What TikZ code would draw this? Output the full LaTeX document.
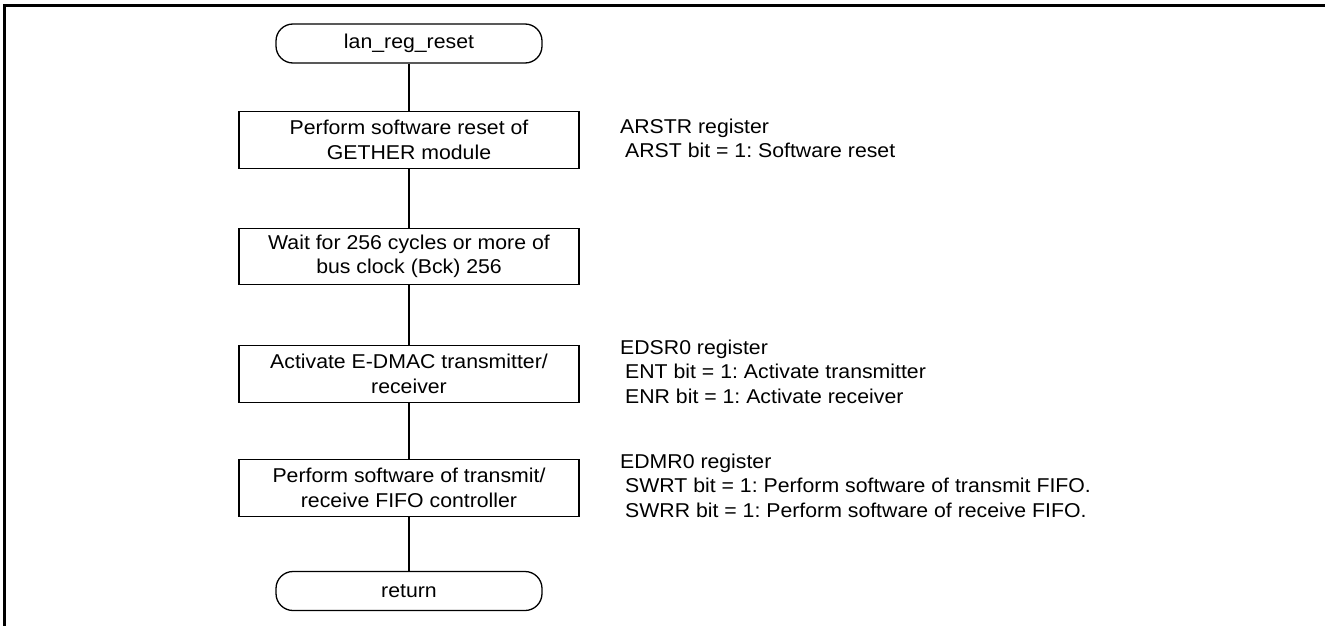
\documentclass[tikz,border=0pt]{standalone}
\usepackage{fontspec}
\setmainfont{Liberation Sans}[FakeStretch=1.063]
\frenchspacing
\begin{document}
\begin{tikzpicture}[x=1pt,y=-1pt,
  every node/.style={font=\fontsize{20}{24.5}\selectfont, inner sep=0pt},
  stepbox/.style={draw, line width=1.3pt, minimum width=340pt, minimum height=56.5pt, align=center},
  term/.style={draw, line width=1.3pt, rounded corners=17pt, minimum width=266pt, minimum height=39pt},
  link/.style={line width=1.3pt},
  frame/.style={line width=2.2pt},
  note/.style={anchor=base west}]
\useasboundingbox (0,0) rectangle (1325,626);
\coordinate (fb) at (4.5,626);
\coordinate (fc) at (4.5,5.5);
\coordinate (fr) at (1325,5.5);
\draw[frame] (fb) -- (fc) -- (fr);

\node[term] (start) at (409,43.5) {lan\_reg\_reset};
\node[stepbox] (b1) at (409,140) {Perform software reset of\\GETHER module};
\node[stepbox] (b2) at (409,256.5) {Wait for 256 cycles or more of\\bus clock (Bck) 256};
\node[stepbox] (b3) at (409,374) {Activate E-DMAC transmitter/\\receiver};
\node[stepbox] (b4) at (409,488) {Perform software of transmit/\\receive FIFO controller};
\node[term] (ret) at (409,591) {return};

\draw[link] (start) -- (b1);
\draw[link] (b1) -- (b2);
\draw[link] (b2) -- (b3);
\draw[link] (b3) -- (b4);
\draw[link] (b4) -- (ret);

\node[note] (n1) at (620,133) {\begin{tabular}[t]{@{}l@{}}ARSTR register\\\hspace*{5pt}ARST bit = 1: Software reset\end{tabular}};
\node[note] (n2) at (620,354) {\begin{tabular}[t]{@{}l@{}}EDSR0 register\\\hspace*{5pt}ENT bit = 1: Activate transmitter\\\hspace*{5pt}ENR bit = 1: Activate receiver\end{tabular}};
\node[note] (n3) at (620,468) {\begin{tabular}[t]{@{}l@{}}EDMR0 register\\\hspace*{5pt}SWRT bit = 1: Perform software of transmit FIFO.\\\hspace*{5pt}SWRR bit = 1: Perform software of receive FIFO.\end{tabular}};
\end{tikzpicture}
\end{document}
